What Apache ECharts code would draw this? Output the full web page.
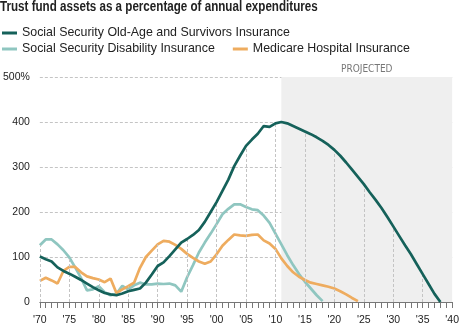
<!DOCTYPE html>
<html>
<head>
<meta charset="utf-8">
<script src="https://cdn.jsdelivr.net/npm/echarts@6/dist/echarts.min.js"></script>
<style>html,body{margin:0;padding:0;background:#fff;}#c{width:462px;height:326px;}</style>
</head>
<body>
<div id="c"></div>
<script>
var years = [1970,1971,1972,1973,1974,1975,1976,1977,1978,1979,1980,1981,1982,1983,1984,1985,1986,1987,1988,1989,
  1990,1991,1992,1993,1994,1995,1996,1997,1998,1999,2000,2001,2002,2003,2004,2005,2006,2007,2008,2009,
  2010,2011,2012,2013,2014,2015,2016,2017,2018,2019,2020,2021,2022,2023,2024,2025,2026,2027,2028,2029,
  2030,2031,2032,2033,2034,2035,2036,2037,2038];
var oasi = [101,95,90,77,69,63,56,49,41,33,26,20,17,15,19,24,27,30,43,61,
  80,88,102,117,132,140,149,160,178,200,222,247,272,302,325,347,361,374,391,389,
  397,400,397,391,385,379,373,366,358,349,338,325,310,294,278,262,244,227,209,189,
  168,147,126,106,84,62,40,18,0];
var di = [126,139,139,128,115,99,77,53,26,28,35,22,15,18,36,28,37,43,39,39,
  41,40,41,37,23,55,82,110,132,152,173,195,207,217,217,211,206,204,192,176,
  152,128,104,82,62,45,30,15,2];
var hi = [47,54,48,41,69,78,78,66,57,53,50,44,52,20,28,35,43,76,100,114,
  128,136,134,127,118,107,98,90,85,90,106,125,138,150,148,147,149,150,137,130,
  118,97,80,66,56,49,43,40,37,34,30,24,17,9,2];
var seriesNames = ['Social Security Old-Age and Survivors Insurance','Social Security Disability Insurance','Medicare Hospital Insurance'];
var titleText = 'Trust fund assets as a percentage of annual expenditures';
var xTicks = [1970,1975,1980,1985,1990,1995,2000,2005,2010,2015,2020,2025,2030,2035,2040];
var yTicks = [0,100,200,300,400,500];
var projectedStart = 2011, projectedEnd = 2040;
var projectedLabel = 'PROJECTED';

function pairs(vals){ return vals.map(function(v,i){ return [years[i], v]; }); }
var allSeries = [oasi, di, hi];
var dropLines = [];
xTicks.forEach(function(t){
  var idx = years.indexOf(t);
  if (idx < 0) return;
  var m = null;
  allSeries.forEach(function(s){ if (idx < s.length && s[idx] != null) m = (m == null ? s[idx] : Math.max(m, s[idx])); });
  if (m != null && m > 0) dropLines.push([{coord:[t,0]},{coord:[t,m]}]);
});

var NARROW = '"Liberation Sans Narrow","DejaVu Sans Condensed",sans-serif';
var SANS = '"Liberation Sans",Arial,Helvetica,sans-serif';
var colors = ['#15615a','#8fc6c0','#eeac5f'];
var chart = echarts.init(document.getElementById('c'), null, {renderer:'canvas'});
chart.setOption({
  animation: false,
  graphic: [
    { type: 'text', left: 0, top: 0, scaleX: 0.83, scaleY: 1, originX: 0, originY: 0, silent: true,
      style: { text: titleText, font: 'bold 14px "Liberation Sans", Arial, sans-serif', fill: '#222' } }
  ],
  legend: [
    { data: [seriesNames[0]], left: 2, top: 25, padding: 0, icon: 'rect', itemWidth: 15, itemHeight: 3, itemGap: 18,
      textStyle: { fontFamily: SANS, fontSize: 12.4, color: '#222', lineHeight: 16 } },
    { data: [seriesNames[1], seriesNames[2]], left: 2, top: 41, padding: 0, icon: 'rect', itemWidth: 15, itemHeight: 3, itemGap: 18,
      textStyle: { fontFamily: SANS, fontSize: 12.4, color: '#222', lineHeight: 16 } }
  ],
  grid: { left: 36, right: 7, top: 77, bottom: 24, containLabel: false },
  xAxis: { type: 'value', min: 1970, max: 2040, interval: 5,
    axisLine: { lineStyle: { color: '#777', width: 1 } },
    axisTick: { length: 6, lineStyle: { color: '#777' } },
    minorTick: { show: true, splitNumber: 5, length: 6, lineStyle: { color: '#777' } },
    splitLine: { show: false },
    axisLabel: { margin: 13, fontFamily: SANS, fontSize: 10.5, color: '#222',
      formatter: function(v){ return "'" + String(v).slice(2); } } },
  yAxis: { type: 'value', min: 0, max: 500, interval: 100,
    axisLine: { show: false }, axisTick: { show: false },
    splitLine: { lineStyle: { color: '#c4c4c4', type: [3,2], width: 1 } },
    axisLabel: { margin: 10, fontFamily: SANS, fontSize: 10.5, color: '#222',
      formatter: function(v){ return v === 500 ? v + '%' : String(v); } } },
  series: [
    { type: 'line', name: '_area', data: [], z: -1, silent: true,
      markArea: { silent: true, itemStyle: { color: '#efefef' },
        label: { show: true, position: 'top', distance: 3, color: '#777', fontFamily: NARROW, fontSize: 10 },
        data: [[{ name: projectedLabel, xAxis: projectedStart, yAxis: 0 }, { xAxis: projectedEnd, yAxis: 500 }]] } },
    { type: 'line', name: '_drops', data: [], z: 1, silent: true,
      markLine: { silent: true, symbol: 'none', label: { show: false },
        lineStyle: { color: '#c4c4c4', type: [3,2], width: 1 }, data: dropLines } },
    { type: 'line', name: seriesNames[1], data: pairs(di), showSymbol: false, z: 3,
      lineStyle: { color: colors[1], width: 2.7 }, itemStyle: { color: colors[1] } },
    { type: 'line', name: seriesNames[2], data: pairs(hi), showSymbol: false, z: 4,
      lineStyle: { color: colors[2], width: 2.7 }, itemStyle: { color: colors[2] } },
    { type: 'line', name: seriesNames[0], data: pairs(oasi), showSymbol: false, z: 5,
      lineStyle: { color: colors[0], width: 2.7 }, itemStyle: { color: colors[0] } }
  ]
});
</script>
</body>
</html>
